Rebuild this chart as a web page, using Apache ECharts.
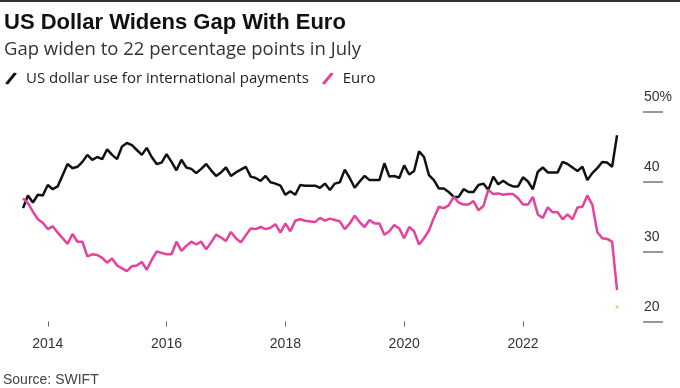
<!DOCTYPE html>
<html>
<head>
<meta charset="utf-8">
<script src="https://cdn.jsdelivr.net/npm/echarts@6/dist/echarts.min.js"></script>
<style>
html,body{margin:0;padding:0;background:#fff;}
#chart{width:680px;height:388px;}
</style>
</head>
<body>
<div id="chart"></div>
<script>
// Monthly data, Jul 2013 .. Jul 2023 (share of international payments, %)
const startYear = 2013, startMonth = 7;
const usdShare = [
  36.2,38.0,37.0,38.1,38.0,39.5,38.9,39.3,40.9,42.5,41.9,42.1,
  42.8,43.8,43.1,43.5,43.2,44.6,43.8,43.2,45.0,45.5,45.2,44.5,
  43.8,44.8,43.5,42.5,42.7,43.9,42.8,41.6,43.1,42.0,41.8,41.2,
  41.8,42.5,41.6,40.8,41.3,42.0,40.8,41.3,41.7,42.1,40.7,40.5,
  40.1,40.8,39.9,39.7,39.4,38.1,38.6,38.1,39.5,39.4,39.4,39.4,
  39.1,39.7,38.8,39.7,39.9,41.7,40.5,39.1,40.0,40.8,40.2,40.2,
  40.2,42.6,40.7,40.8,40.5,42.3,41.0,41.5,44.3,43.5,40.9,40.2,
  39.0,39.0,38.5,37.8,37.8,38.9,38.5,38.5,39.5,39.7,38.8,40.7,
  39.6,40.1,39.6,39.3,39.3,40.6,40.0,38.9,41.4,42.0,41.3,41.3,
  41.3,42.8,42.5,42.0,41.5,42.1,40.2,41.2,41.9,42.8,42.7,42.1,
  46.6
];
const eurShare = [
  37.6,36.9,35.7,34.6,34.1,33.2,33.6,32.7,31.9,31.1,32.5,31.4,
  31.4,29.3,29.6,29.5,29.1,28.4,29.0,28.0,27.6,27.2,27.9,28.0,
  28.5,27.4,28.8,30.0,29.8,29.6,29.6,31.4,30.1,30.8,31.4,31.0,
  31.4,30.3,31.3,32.4,32.0,31.5,32.8,31.9,31.3,32.3,33.3,33.2,
  33.5,33.2,33.4,33.9,32.7,34.0,32.9,34.4,34.6,34.4,34.3,34.2,
  34.8,34.4,34.7,34.5,34.3,33.2,34.0,35.1,34.2,33.5,34.5,34.0,
  34.0,32.4,32.9,33.8,33.3,31.9,33.5,32.9,31.0,31.9,33.0,34.8,
  36.4,36.2,36.6,37.8,37.0,36.7,36.7,37.2,35.9,36.5,38.8,38.2,
  38.3,38.1,38.2,38.2,37.6,36.7,36.7,37.8,35.3,34.8,36.3,35.6,
  35.6,34.6,35.3,34.6,36.3,36.4,38.0,36.7,32.8,31.9,31.8,31.4,
  24.5
];
const markerValue = 22.1;
const tickYears = [2014, 2016, 2018, 2020, 2022];
const yTicks = [20, 30, 40, 50];

// month positions as fractional years (end of month)
const xs = usdShare.map((_, i) => startYear + (startMonth + i) / 12);
const usdData = usdShare.map((v, i) => [xs[i], v]);
const eurData = eurShare.map((v, i) => [xs[i], v]);

const chart = echarts.init(document.getElementById('chart'), null, {renderer: 'canvas'});
const FONT = '"Liberation Sans", Arial, sans-serif';
const FONT2 = '"Open Sans", "Liberation Sans", Arial, sans-serif';
chart.setOption({
  animation: false,
  backgroundColor: '#ffffff',
  textStyle: {fontFamily: FONT},
  graphic: [
    {type: 'rect', shape: {x: 0, y: 0, width: 680, height: 2}, style: {fill: '#333'}}
  ],
  title: [
    {text: 'US Dollar Widens Gap With Euro', left: 4, top: 12, padding: 0,
     textStyle: {fontFamily: FONT, fontSize: 22, fontWeight: 'bold', color: '#111'}},
    {text: 'Gap widen to 22 percentage points in July', left: 4, top: 40, padding: 0,
     textStyle: {fontFamily: FONT2, fontSize: 18.5, fontWeight: 'normal', color: '#333'}},
    {text: 'Source: SWIFT', left: 3, top: 373, padding: 0,
     textStyle: {fontFamily: FONT, fontSize: 14, fontWeight: 'normal', color: '#444'}}
  ],
  legend: {
    left: 5, top: 71, padding: 0,
    data: ['US dollar use for international payments', 'Euro'],
    icon: 'path://M0,11 L9,0 L12,1 L3,12 Z',
    itemWidth: 12, itemHeight: 12, itemGap: 13,
    textStyle: {fontFamily: FONT2, fontSize: 15, color: '#222', padding: [0, 0, 0, 4]}
  },
  grid: {left: 23, right: 37, top: 111.5, bottom: 66.5, containLabel: false},
  xAxis: {
    type: 'value',
    min: xs[0], max: 2024.02,
    axisLine: {show: false},
    splitLine: {show: false},
    axisTick: {show: true, customValues: tickYears, length: 5, lineStyle: {color: '#666', width: 1}},
    axisLabel: {customValues: tickYears, margin: 16, fontSize: 14, color: '#333', fontFamily: FONT,
      formatter: v => String(Math.round(v))}
  },
  yAxis: {
    type: 'value', position: 'right',
    min: yTicks[0], max: yTicks[yTicks.length - 1], interval: 10,
    axisLine: {show: false},
    splitLine: {show: false},
    axisTick: {show: true, length: 20, lineStyle: {color: '#777', width: 1.5}},
    axisLabel: {align: 'left', verticalAlign: 'bottom', margin: 1, padding: [0, 0, 7, 0],
      fontSize: 14, color: '#333', fontFamily: FONT,
      formatter: v => v === 50 ? '50%' : String(v)}
  },
  series: [
    {name: 'US dollar use for international payments', type: 'line', data: usdData,
     showSymbol: false, lineStyle: {color: '#111', width: 2.5}, itemStyle: {color: '#111'}, z: 3},
    {name: 'Euro', type: 'line', data: eurData,
     showSymbol: false, lineStyle: {color: '#e8409c', width: 2.5}, itemStyle: {color: '#e8409c'}, z: 4},
    {name: 'marker', type: 'scatter', data: [[xs[xs.length - 1], markerValue]],
     symbolSize: 3, itemStyle: {color: '#f3b34c'}, z: 2}
  ]
});
</script>
</body>
</html>
